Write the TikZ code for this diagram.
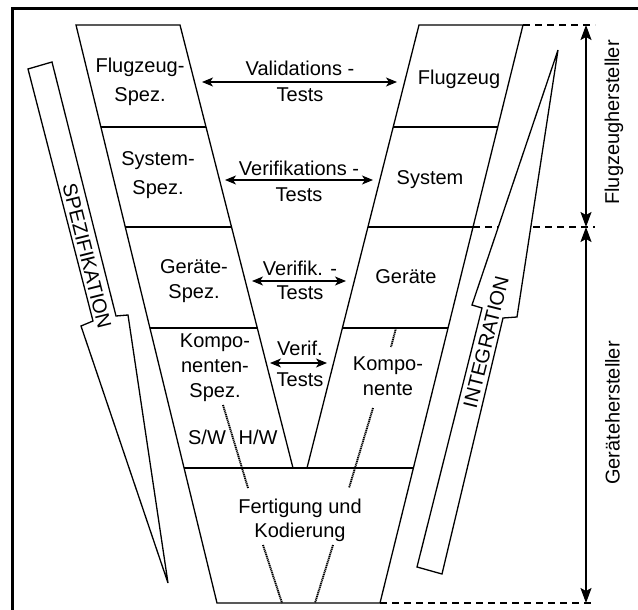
\documentclass[tikz,border=0pt]{standalone}
\usepackage{fontspec}
\setmainfont{Liberation Sans}
\usetikzlibrary{arrows.meta}
\begin{document}
\begin{tikzpicture}[x=1pt,y=-1pt,
  edge/.style={line width=1.3pt, line join=miter},
  divider/.style={line width=1.8pt},
  frameline/.style={line width=3pt},
  lbl/.style={inner sep=0pt, align=center, anchor=north},
  fs/.style={font=\fontsize{20}{#1}\selectfont},
  dashline/.style={line width=1.8pt, dash pattern=on 7pt off 5pt},
  dotline/.style={line width=1.9pt, dash pattern=on 1.2pt off 0.7pt},
  testarrow/.style={line width=1.5pt, {Stealth[length=11pt,width=9pt,inset=3pt]}-{Stealth[length=11pt,width=9pt,inset=3pt]}},
  sidearrow/.style={line width=1.5pt, {Stealth[length=15pt,width=11pt,inset=3pt]}-{Stealth[length=15pt,width=11pt,inset=3pt]}},
  blockarrow/.style={line width=1.3pt, fill=white, line join=miter},
]
\useasboundingbox (0,0) rectangle (638,610);
\fill[white] (0,0) rectangle (638,610);

% frame
\draw[frameline] (12.5,610) -- (12.5,9) -- (638,9);

% V corners
\coordinate (LoT) at (76,25);
\coordinate (LoB) at (217,603);
\coordinate (LiT) at (180,25);
\coordinate (LiB) at (293,468);
\coordinate (RiT) at (419,25);
\coordinate (RiB) at (307,468);
\coordinate (RoT) at (523,25);
\coordinate (RoB) at (380,603);

% dashed level lines (under the integration arrow)
\coordinate (dA1) at (595,25);
\coordinate (dB0) at (473,227);
\coordinate (dB1) at (595,227);
\coordinate (dC1) at (595,603);
\draw[dashline] (RoT) -- (dA1);
\draw[dashline] (dB0) -- (dB1);
\draw[dashline] (RoB) -- (dC1);

% V outline
\draw[edge] (LiB) -- (LiT) -- (LoT) -- (LoB) -- (RoB) -- (RoT) -- (RiT) -- (RiB);

% dividers
\draw[divider] (100.9,127) -- (206,127);
\draw[divider] (125.3,227) -- (231.5,227);
\draw[divider] (149.9,328) -- (257.3,328);
\draw[divider] (393.2,127) -- (497.8,127);
\draw[divider] (367.9,227) -- (473,227);
\draw[divider] (342.4,328) -- (448,328);
\draw[divider] (184,468) -- (413.4,468);

% dotted lines
\draw[dotline] (223,405) -- (248,488);
\draw[dotline] (396,328) -- (391,347);
\draw[dotline] (373,408) -- (349,488);
\draw[dotline] (263,545) -- (282,603);
\draw[dotline] (333,545) -- (315,603);

% SPEZIFIKATION block arrow
\draw[blockarrow] (28,69) -- (52,62) -- (116,316) -- (128,315) -- (168,583)
  -- (81,326) -- (93,321) -- cycle;
\node[inner sep=0pt, rotate=-76, fs=24] (spez) at (87,256) {SPEZIFIKATION};

% INTEGRATION block arrow
\draw[blockarrow] (558,50) -- (517,317) -- (503,318) -- (442,574) -- (417,567)
  -- (482,308) -- (472,305) -- cycle;
\node[inner sep=0pt, rotate=76, fs=24] (integ) at (486,342) {INTEGRATION};

% left column texts
\node[lbl, fs=29] (fs1) at (140,57.5) {Flugzeug-\\Spez.};
\node[lbl, fs=28.3] (fs2) at (158,151.7) {System-\\Spez.};
\node[lbl, fs=25] (fs3) at (194,259.3) {Geräte-\\Spez.};
\node[lbl, fs=25] (fs4) at (215,334) {Kompo-\\nenten-\\Spez.};
\node[lbl, fs=24] (sw) at (207,430) {S/W};
\node[lbl, fs=24] (hw) at (258,430) {H/W};
\node[lbl, fs=23.4] (fk) at (300,499) {Fertigung und\\Kodierung};

% right column texts
\node[lbl, fs=24] (r1) at (459,70) {Flugzeug};
\node[lbl, fs=24] (r2) at (430,170.7) {System};
\node[lbl, fs=24] (r3) at (406,269.3) {Geräte};
\node[lbl, fs=24.4] (r4) at (388,356.7) {Kompo-\\nente};

% test texts
\node[lbl, fs=26.3] (t1) at (300,60.7) {Validations -\\Tests};
\node[lbl, fs=25.7] (t2) at (299,160.7) {Verifikations -\\Tests};
\node[lbl, fs=24.3] (t3) at (300,260.7) {Verifik. -\\Tests};
\node[lbl, fs=31] (t4) at (300,340.7) {Verif.\\Tests};

% test arrows
\coordinate (a1l) at (202,82);  \coordinate (a1r) at (397,82);
\coordinate (a2l) at (225,180); \coordinate (a2r) at (373,180);
\coordinate (a3l) at (252,281); \coordinate (a3r) at (346,281);
\coordinate (a4l) at (270,363); \coordinate (a4r) at (327,363);
\draw[testarrow] (a1l) -- (a1r);
\draw[testarrow] (a2l) -- (a2r);
\draw[testarrow] (a3l) -- (a3r);
\draw[testarrow] (a4l) -- (a4r);

% manufacturer ranges
\coordinate (m0) at (586,25);
\coordinate (m1) at (586,227);
\coordinate (m2) at (586,603);
\draw[sidearrow] (m0) -- (m1);
\draw[sidearrow] (m1) -- (m2);
\node[inner sep=0pt, rotate=90, fs=24] (fh) at (614,122.5) {Flugzeughersteller};
\node[inner sep=0pt, rotate=90, fs=24] (gh) at (612.5,413) {Gerätehersteller};
\end{tikzpicture}
\end{document}
